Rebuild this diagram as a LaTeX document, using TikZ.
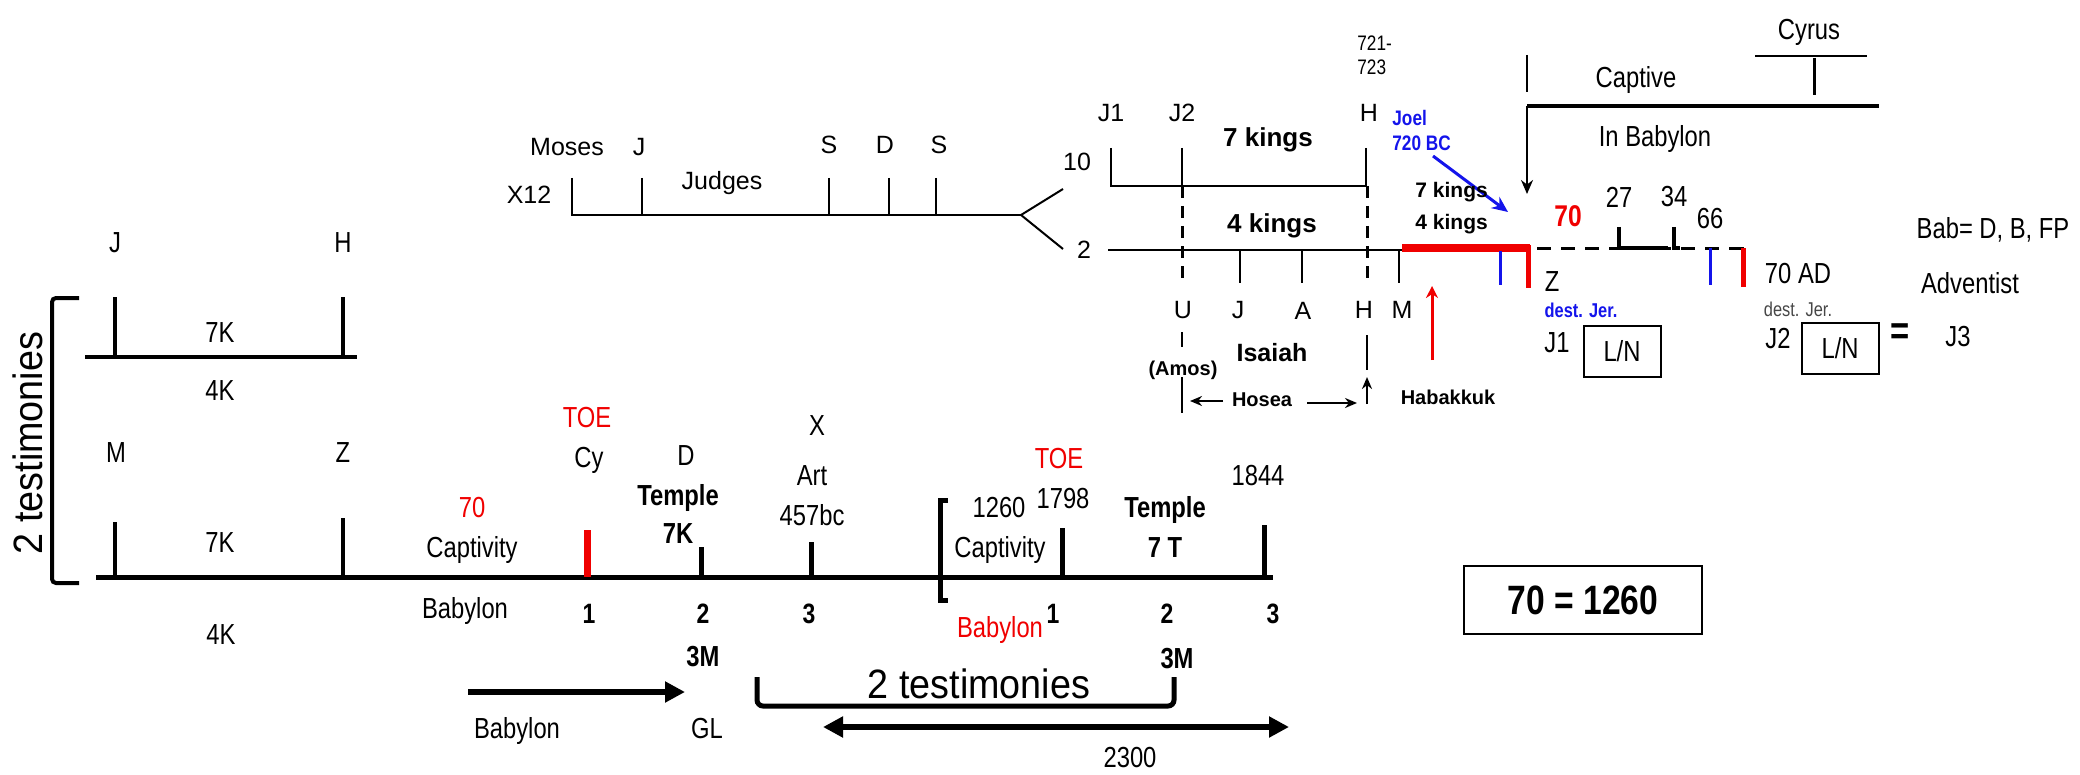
\documentclass[tikz,border=0pt]{standalone}
\usepackage{fontspec}
\setmainfont{Liberation Sans}
\newfontfamily\narf[FakeStretch=0.82]{Liberation Sans}
\newfontfamily\midf[FakeStretch=0.92]{Liberation Sans}
\usetikzlibrary{arrows.meta}
\newcommand{\fsz}[1]{\fontsize{#1}{#1}\selectfont}
\definecolor{myred}{RGB}{240,0,0}
\definecolor{myblue}{RGB}{20,20,235}
\definecolor{mygray}{RGB}{70,70,70}
\tikzset{
  L/.style={inner sep=0pt, anchor=base, yshift={-0.358*#1pt}, font=\fsz{#1}},
  LB/.style={L=#1, font=\bfseries\fsz{#1}},
  N/.style={L=#1, font=\narf\fsz{#1}},
  NB/.style={L=#1, font=\narf\bfseries\fsz{#1}},
  thinl/.style={line width=1pt},
  thickl/.style={line width=2.5pt},
  lnbox/.style={draw, line width=1pt, minimum width=38.5pt, minimum height=25.5pt, inner sep=0pt, font=\narf\fsz{14.5}},
  bigarrow/.style={line width=3pt, -{Triangle[length=10pt,width=10pt]}},
  bigdarrow/.style={line width=3pt, {Triangle[length=10pt,width=10pt]}-{Triangle[length=10pt,width=10pt]}},
}
\begin{document}
\begin{tikzpicture}[x=0.5pt,y=-0.5pt]
\useasboundingbox (0,0) rectangle (2080,775);

% ===== top-centre timeline =====
\coordinate (tl0) at (572,215);
\coordinate (fork) at (1021,215);
\coordinate (f10) at (1063,189);
\coordinate (f2) at (1063,249);
\draw[thinl] (572,178) -- (tl0) -- (fork);
\foreach \x in {642,829,889,936} \draw[thinl] (\x,178) -- (\x,215);
\draw[thinl] (f10) -- (fork) -- (f2);
\node[L=12.5] (moses) at (567,147) {Moses};
\node[L=12.5] (tj) at (639,147) {J};
\node[L=12.5] (ts1) at (829,145) {S};
\node[L=12.5] (td) at (885,145) {D};
\node[L=12.5] (ts2) at (939,145) {S};
\node[L=12.5] (judges) at (722,181) {Judges};
\node[L=12.5] (x12) at (529,195) {X12};
\node[L=12.5] (n10) at (1077,162) {10};
\node[L=12.5] (n2) at (1084,250) {2};

% ===== kings block =====
\coordinate (u0) at (1111,186);
\coordinate (u1) at (1367,186);
\draw[thinl] (1111,148) -- (u0) -- (u1);
\draw[thinl] (1182,148) -- (1182,186);
\draw[thinl] (1366,148) -- (1366,186);
\coordinate (l0) at (1108,250);
\coordinate (l1) at (1402,250);
\draw[thinl] (l0) -- (l1);
\draw[line width=1.5pt, dash pattern=on 6pt off 4pt] (1182,186) -- (1182,283);
\draw[line width=1.5pt, dash pattern=on 6pt off 4pt] (1367,186) -- (1367,283);
\foreach \x in {1240,1302,1399} \draw[thinl] (\x,250) -- (\x,283);
\coordinate (r0) at (1402,248);
\coordinate (r1) at (1530,248);
\draw[myred, line width=4pt] (r0) -- (r1);
\draw[myred, line width=2.5pt] (1528,245) -- (1528,288);
\draw[myblue, line width=1.5pt] (1500,251) -- (1500,285);

\node[L=12.5] (kj1) at (1111,113) {J1};
\node[L=12.5] (kj2) at (1182,113) {J2};
\node[L=12.5] (kh) at (1369,113) {H};
\node[LB=13] (k7) at (1268,137) {7 kings};
\node[LB=13] (k4) at (1272,223) {4 kings};
\node[N=10.5, anchor=base west] (d721) at (1357,43) {721-};
\node[N=10.5, anchor=base west] (d723) at (1357,67) {723};
\node[NB=10.5, anchor=base west, text=myblue] (joel) at (1392,118) {Joel};
\node[NB=10.5, anchor=base west, text=myblue] (bc720) at (1392,143) {720 BC};
\coordinate (joelarr) at (1508,212);
\draw[myblue, line width=1.5pt, -{Stealth[length=8pt,width=7pt]}] (1433,156) -- (joelarr);
\node[LB=10.5, anchor=base west] (s7) at (1415,190) {7 kings};
\node[LB=10.5, anchor=base west] (s4) at (1415,222) {4 kings};

\node[L=12.5] (ku) at (1183,310) {U};
\node[L=12.5] (kj) at (1238,310) {J};
\node[L=12.5] (ka) at (1303,311) {A};
\node[L=12.5] (kh2) at (1364,310) {H};
\node[L=12.5] (km) at (1402,310) {M};
\draw[thinl] (1182,332) -- (1182,347);
\node[LB=10] (amos) at (1183,368) {(Amos)};
\draw[thinl] (1182,377) -- (1182,413);
\node[LB=12.5] (isaiah) at (1272,353) {Isaiah};
\draw[thinl] (1367,335) -- (1367,370);
\draw[thinl, -{Stealth[length=6pt,width=5pt]}] (1367,404) -- (1367,377);
\node[LB=10] (hosea) at (1262,399) {Hosea};
\draw[line width=1.2pt, -{Stealth[length=6pt,width=5pt]}] (1223,401) -- (1190,401);
\draw[line width=1.2pt, -{Stealth[length=6pt,width=5pt]}] (1307,403) -- (1357,403);
\node[LB=10] (habak) at (1448,397) {Habakkuk};
\draw[myred, line width=1.5pt, -{Stealth[length=6pt,width=6pt]}] (1432,360) -- (1432,286);

% ===== captive / cyrus =====
\draw[thinl] (1527,55) -- (1527,92);
\coordinate (capL) at (1527,106);
\coordinate (capR) at (1879,106);
\draw[line width=2pt] (capL) -- (capR);
\draw[thinl, -{Stealth[length=7pt,width=6pt]}] (1527,106) -- (1527,194);
\draw[thinl] (1755,56) -- (1867,56);
\draw[line width=1.5pt] (1814,58) -- (1814,95);
\node[N=14.5] (cyrus) at (1809,29) {Cyrus};
\node[N=14.5] (captive) at (1636,77) {Captive};
\node[N=14.5] (inbab) at (1655,136) {In Babylon};

\node[NB=15, text=myred] (r70) at (1568,216) {70};
\node[N=14.5] (n27) at (1619,197) {27};
\node[N=14.5] (n34) at (1674,196) {34};
\node[N=14.5] (n66) at (1710,218) {66};
\draw[line width=1.5pt, dash pattern=on 7pt off 5pt] (1537,248) -- (1737,248);
\draw[line width=1.5pt] (1734,248) -- (1744,248);
\draw[line width=2pt] (1619,227) -- (1619,248) -- (1668,248);
\draw[line width=2pt] (1674,227) -- (1674,248) -- (1680,248);
\draw[myblue, line width=1.5pt] (1710,248) -- (1710,285);
\draw[myred, line width=2.5pt] (1743,248) -- (1743,287);

\node[N=14.5] (rz) at (1552,281) {Z};
\node[NB=10, text=myblue] (dj1) at (1581,310) {dest. Jer.};
\node[N=14.5] (rj1) at (1557,342) {J1};
\node[lnbox] (ln1) at (1622,351) {L/N};
\node[N=14.5] (ad70) at (1798,273) {70 AD};
\node[N=10, text=mygray] (dj2) at (1798,309) {dest. Jer.};
\node[N=14.5] (rj2) at (1778,338) {J2};
\node[lnbox] (ln2) at (1840,348) {L/N};
\node[NB=20] (eq) at (1900,330) {=};
\node[N=14.5] (rj3) at (1958,336) {J3};
\node[N=14.5] (bab) at (1993,228) {Bab= D, B, FP};
\node[N=14.5] (adv) at (1970,283) {Adventist};

% ===== left small timeline =====
\node[N=14.5] (lj) at (115,242) {J};
\node[N=14.5] (lh) at (343,242) {H};
\draw[line width=2pt] (115,297) -- (115,357);
\draw[line width=2pt] (343,297) -- (343,357);
\coordinate (ul0) at (85,357);
\coordinate (ul1) at (357,357);
\draw[line width=2pt] (ul0) -- (ul1);
\node[N=14.5] (l7k) at (220,332) {7K};
\node[N=14.5] (l4k) at (220,390) {4K};
\node[N=14.5] (lm) at (116,452) {M};
\node[N=14.5] (lz) at (343,452) {Z};
\draw[line width=2pt] (115,522) -- (115,577);
\draw[line width=2pt] (343,518) -- (343,577);
\coordinate (ml0) at (96,577);
\coordinate (ml1) at (1273,577);
\draw[line width=2.5pt] (ml0) -- (ml1);
\node[N=14.5] (b7k) at (220,542) {7K};
\node[N=14.5] (b4k) at (221,634) {4K};
\draw[line width=2pt, rounded corners=2pt] (79,298) -- (52,298) -- (52,583) -- (79,583);
\node[inner sep=0pt, rotate=90, font=\midf\fsz{20.5}] (test1) at (28,443) {2 testimonies};

% ===== main lower timeline labels =====
\node[N=14.5, text=myred] (m70) at (472,507) {70};
\node[N=14.5] (mcap) at (472,547) {Captivity};
\node[N=14.5] (mbab) at (465,608) {Babylon};
\draw[myred, line width=3.5pt] (587,530) -- (587,577);
\node[N=14.5, text=myred] (toe1) at (587,417) {TOE};
\node[N=14.5] (cy) at (589,457) {Cy};
\node[NB=14] (one1) at (589,613) {1};
\node[N=14.5] (md) at (686,455) {D};
\node[NB=14.5] (temple1) at (678,495) {Temple};
\node[NB=14.5] (t7k) at (678,533) {7K};
\draw[line width=2.5pt] (701,547) -- (701,577);
\node[NB=14] (two1) at (703,613) {2};
\node[N=14.5] (mx) at (817,425) {X};
\node[N=14.5] (art) at (812,475) {Art};
\node[N=14.5] (y457) at (812,515) {457bc};
\draw[line width=2.5pt] (811,542) -- (811,577);
\node[NB=14] (three1) at (809,613) {3};

\draw[line width=2.5pt] (948,500) -- (940,500) -- (940,600) -- (948,600);
\node[N=14.5] (y1260) at (999,507) {1260};
\node[N=14.5] (y1798) at (1063,498) {1798};
\node[N=14.5, text=myred] (toe2) at (1059,458) {TOE};
\node[N=14.5] (cap2) at (1000,547) {Captivity};
\draw[line width=2.5pt] (1062,528) -- (1062,577);
\node[N=14.5, text=myred] (bab2) at (1000,627) {Babylon};
\node[NB=14] (one2) at (1053,613) {1};
\node[NB=14.5] (temple2) at (1165,507) {Temple};
\node[NB=14.5] (t7t) at (1165,547) {7 T};
\node[N=14.5] (y1844) at (1258,475) {1844};
\draw[line width=2.5pt] (1264,525) -- (1264,577);
\node[NB=14] (two2) at (1167,613) {2};
\node[NB=14] (three2) at (1273,613) {3};

% ===== bottom =====
\node[NB=14.5] (m3a) at (703,656) {3M};
\node[NB=14.5] (m3b) at (1177,658) {3M};
\coordinate (ba0) at (468,692);
\coordinate (ba1) at (685,692);
\draw[bigarrow] (ba0) -- (ba1);
\node[N=14.5] (bbab) at (517,728) {Babylon};
\node[N=14.5] (gl) at (707,728) {GL};
\draw[line width=2.5pt, rounded corners=3pt] (757,677) -- (757,706) -- (1174,706) -- (1174,677);
\node[inner sep=0pt, font=\midf\fsz{20.5}] (test2) at (979,684) {2 testimonies};
\coordinate (da0) at (823,727);
\coordinate (da1) at (1289,727);
\draw[bigdarrow] (da0) -- (da1);
\node[N=14.5] (n2300) at (1130,757) {2300};

\node[draw, line width=1pt, minimum width=119pt, minimum height=34pt, inner sep=0pt] (eqbox) at (1583,600) {};
\node[inner sep=0pt, font=\narf\bfseries\fsz{20.5}] (eqtxt) at (1583,600) {70 = 1260};
\end{tikzpicture}
\end{document}
